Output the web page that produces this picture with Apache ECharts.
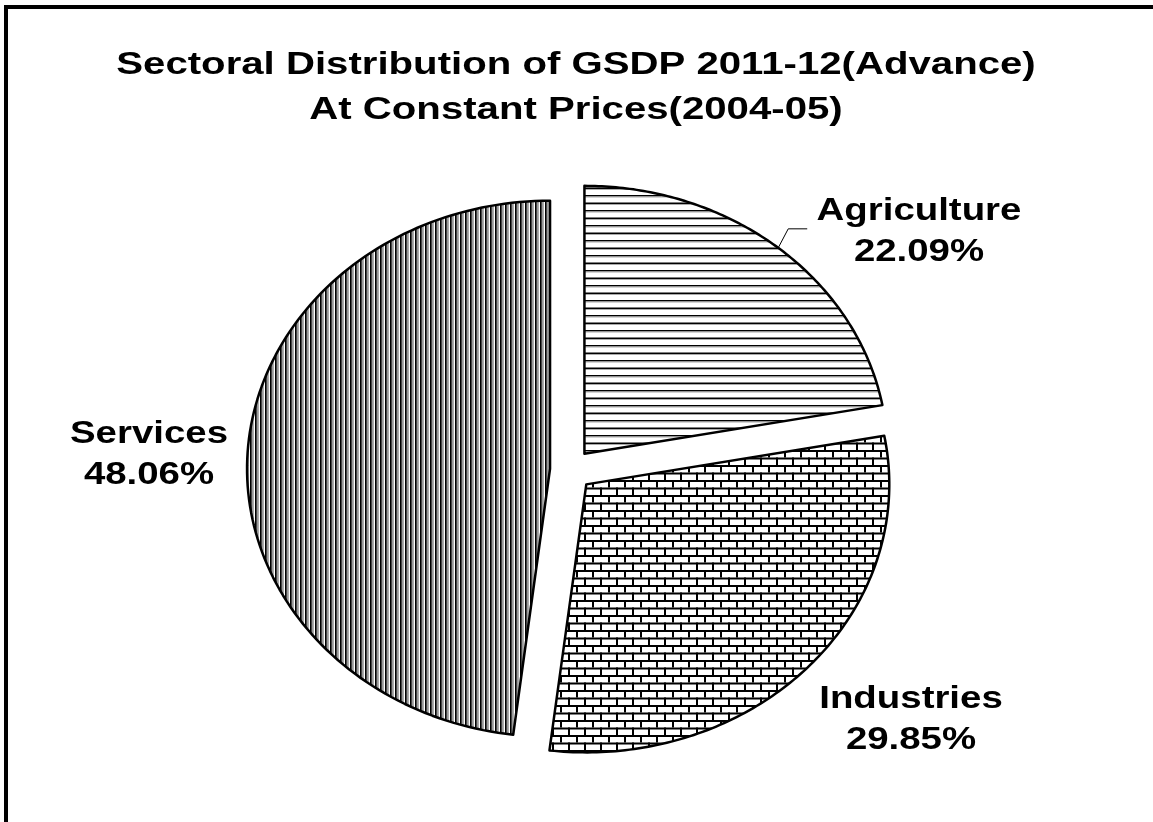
<!doctype html>
<html lang="en">
<head>
<meta charset="utf-8" />
<title>Sectoral Distribution of GSDP 2011-12</title>
<script src="https://cdn.jsdelivr.net/npm/echarts@6/dist/echarts.min.js"></script>
<style>
    html, body { margin: 0; padding: 0; background: #fff; }
    #chart { width: 1153px; height: 822px; }
</style>
</head>
<body>
<div id="chart"></div>
<script>
    var sectors = ['Agriculture', 'Industries', 'Services'];
    var shares = [22.09, 29.85, 48.06];
    var titleText = 'Sectoral Distribution of GSDP 2011-12(Advance)\nAt Constant Prices(2004-05)';

    // pie is drawn slightly stretched (ellipse), like the source picture
    var CX = 571, CY = 470, RX = 303, RY = 268, EXPLODE = 21;
    var labelPos = [[919, 232], [911, 720], [149, 455]];
    var hasLeader = [true, false, false];
    var FONT = 'bold 32px "Liberation Sans", Arial, sans-serif';
    var STRETCH = 1.2;   // the source text is widened horizontally

    function makeTile(w, h, draw) {
        var c = document.createElement('canvas');
        c.width = w;
        c.height = h;
        var ctx = c.getContext('2d');
        ctx.fillStyle = '#fff';
        ctx.fillRect(0, 0, w, h);
        draw(ctx);
        return { image: c, repeat: 'repeat' };
    }

    /* horizontal lines, bricks, vertical stripes */
    var patterns = [
        makeTile(8, 15, function (ctx) {
            ctx.fillStyle = '#000';
            ctx.fillRect(0, 0, 8, 1.5);
            ctx.fillRect(0, 7.5, 8, 1.5);
            ctx.fillStyle = '#aaa';
            ctx.fillRect(0, 1.5, 8, 1);
            ctx.fillRect(0, 9, 8, 1);
        }),
        makeTile(16, 15, function (ctx) {
            ctx.fillStyle = '#000';
            ctx.fillRect(0, 0, 16, 2);
            ctx.fillRect(0, 7.5, 16, 2);
            ctx.fillRect(0, 0, 2, 7.5);
            ctx.fillRect(8, 7.5, 2, 7.5);
        }),
        makeTile(5, 8, function (ctx) {
            ctx.fillStyle = '#000';
            ctx.fillRect(0, 0, 1.8, 8);
            ctx.fillStyle = '#999';
            ctx.fillRect(1.8, 0, 2, 8);
        })
    ];

    function renderItem(params, api) {
        var i = params.dataIndex;
        var total = 0, before = 0;
        for (var k = 0; k < shares.length; k++) {
            total += shares[k];
            if (k < i) before += shares[k];
        }
        var a0 = -Math.PI / 2 + 2 * Math.PI * before / total;
        var a1 = a0 + 2 * Math.PI * api.value(1) / total;
        var mid = (a0 + a1) / 2;
        var cx = CX + EXPLODE * Math.cos(mid);
        var cy = CY + EXPLODE * Math.sin(mid);

        var pts = [[cx, cy]];
        var n = 120;
        for (var s = 0; s <= n; s++) {
            var a = a0 + (a1 - a0) * s / n;
            pts.push([cx + RX * Math.cos(a), cy + RY * Math.sin(a)]);
        }

        var children = [{
            type: 'polygon',
            shape: { points: pts },
            style: { fill: patterns[i], stroke: '#000', lineWidth: 2.5, lineJoin: 'round' }
        }, {
            type: 'text',
            x: labelPos[i][0],
            y: labelPos[i][1],
            scaleX: STRETCH,
            style: {
                text: sectors[i] + '\n' + api.value(1).toFixed(2) + '%',
                x: 0,
                y: 0,
                font: FONT,
                lineHeight: 41,
                fill: '#000',
                align: 'center',
                verticalAlign: 'middle'
            }
        }];

        if (hasLeader[i]) {
            var ex = cx + RX * Math.cos(mid), ey = cy + RY * Math.sin(mid);
            children.push({
                type: 'polyline',
                shape: { points: [[ex, ey], [ex + 10, ey - 19], [ex + 29, ey - 19]] },
                style: { stroke: '#000', lineWidth: 1, fill: null }
            });
        }
        return { type: 'group', children: children };
    }

    var chart = echarts.init(document.getElementById('chart'));
    chart.setOption({
        backgroundColor: '#fff',
        animation: false,
        graphic: [{
            type: 'rect',
            z: -1,
            shape: { x: 6, y: 7, width: 1200, height: 900 },
            style: { fill: null, stroke: '#000', lineWidth: 4 }
        }, {
            type: 'text',
            x: 576,
            y: 88,
            scaleX: 1.255,
            style: {
                text: titleText,
                x: 0,
                y: 0,
                font: FONT,
                lineHeight: 45,
                fill: '#000',
                align: 'center',
                verticalAlign: 'middle'
            }
        }],
        series: [{
            type: 'custom',
            coordinateSystem: 'none',
            renderItem: renderItem,
            data: shares.map(function (v, i) { return [i, v]; })
        }]
    });
</script>
</body>
</html>
